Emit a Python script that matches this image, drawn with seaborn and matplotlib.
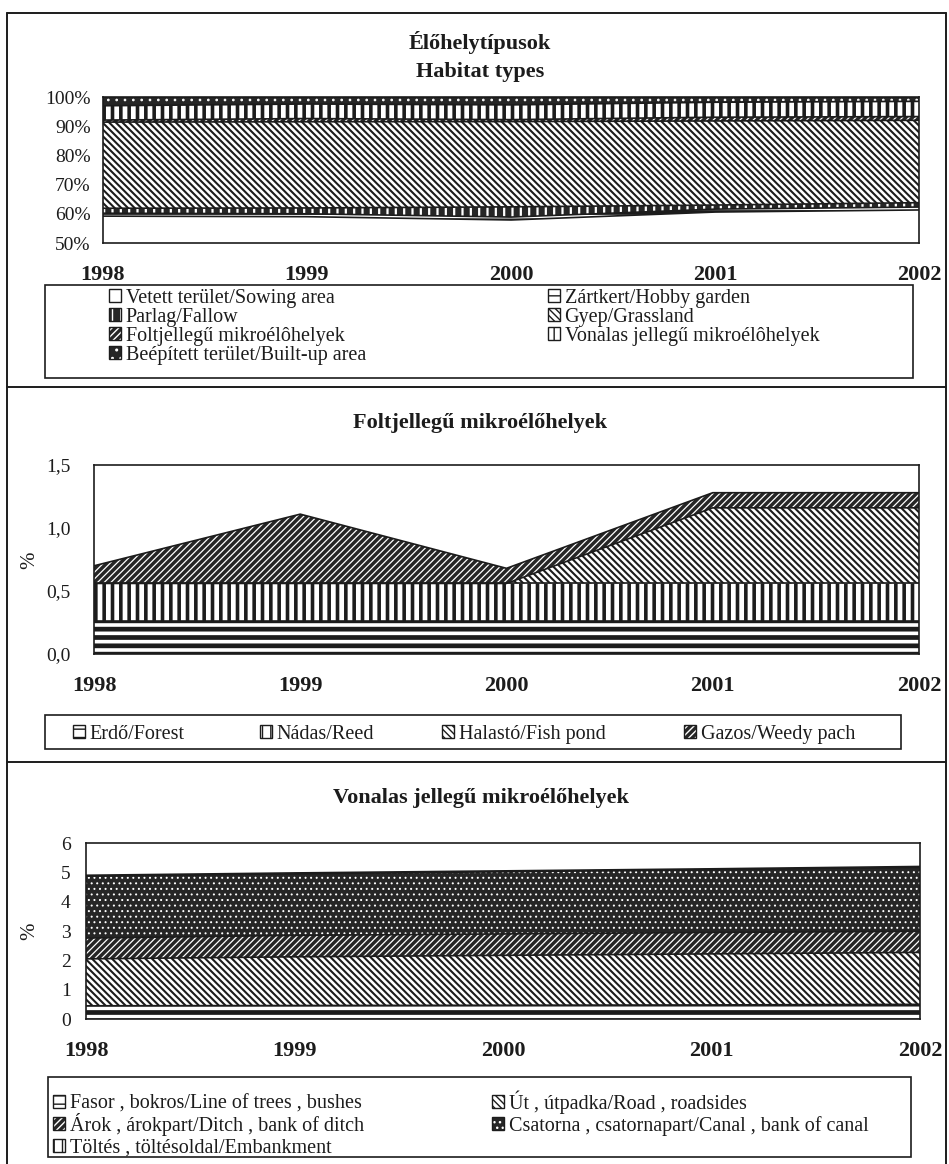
import numpy as np
import matplotlib
matplotlib.use("Agg")
import matplotlib.pyplot as plt
import seaborn as sns
from matplotlib.patches import Patch, Rectangle
from matplotlib.lines import Line2D
from matplotlib.legend_handler import HandlerTuple
from matplotlib.ticker import FuncFormatter, MultipleLocator

# ---------------------------------------------------------------- data
years = [1998, 1999, 2000, 2001, 2002]

# Élőhelytípusok / Habitat types (share of total area, %)
vetett = [59.2, 59.0, 57.9, 60.6, 61.3]
zartkert = [1.0, 1.0, 1.0, 1.0, 1.0]
parlag = [1.7, 2.0, 3.5, 1.4, 1.5]
gyep = [29.5, 29.5, 29.2, 28.8, 28.2]
foltjellegu = [0.70, 1.11, 0.68, 1.28, 1.28]
vonalas = [4.90, 4.98, 5.05, 5.12, 5.20]
beepitett = [3.0, 2.4, 2.7, 1.8, 1.5]
habitat_labels = ["Vetett terület/Sowing area", "Zártkert/Hobby garden",
                  "Parlag/Fallow", "Gyep/Grassland",
                  "Foltjellegű mikroélôhelyek", "Vonalas jellegű mikroélôhelyek",
                  "Beépített terület/Built-up area"]

# Foltjellegű mikroélőhelyek (%)
erdo = [0.26, 0.26, 0.26, 0.26, 0.26]
nadas = [0.30, 0.30, 0.30, 0.30, 0.30]
halasto = [0.00, 0.00, 0.00, 0.60, 0.60]
gazos = [0.14, 0.55, 0.12, 0.12, 0.12]
patch_labels = ["Erdő/Forest", "Nádas/Reed", "Halastó/Fish pond", "Gazos/Weedy pach"]

# Vonalas jellegű mikroélőhelyek (%)
fasor = [0.45, 0.46, 0.47, 0.48, 0.50]
ut = [1.60, 1.66, 1.70, 1.74, 1.77]
arok = [0.71, 0.73, 0.73, 0.73, 0.72]
csatorna = [2.11, 2.10, 2.12, 2.14, 2.18]
toltes = [0.03, 0.03, 0.03, 0.03, 0.03]
linear_labels = ["Fasor , bokros/Line of trees , bushes", "Út , útpadka/Road , roadsides",
                 "Árok , árokpart/Ditch , bank of ditch",
                 "Csatorna , csatornapart/Canal , bank of canal",
                 "Töltés , töltésoldal/Embankment"]

# ---------------------------------------------------------------- style
sns.set_theme(style="white")
plt.rcParams["font.family"] = ["Liberation Serif", "DejaVu Serif"]
INK = "#1c1c1c"
DARK = "#262626"
plt.rcParams["text.color"] = INK
plt.rcParams["axes.edgecolor"] = INK
plt.rcParams["xtick.color"] = INK
plt.rcParams["ytick.color"] = INK

LEG_FS = 14.5
TICK_FS = 14
YEAR_FS = 16
TITLE_FS = 16

# fill styles: (face colour, hatch, hatch colour, hatch line width)
S_WHITE = ("white", None, INK, 1.0)
S_HLINES = ("white", "--", INK, 3.4)
S_DARK_VBARS = (DARK, "||", "white", 1.6)
S_BACK = ("white", "\\" * 5, INK, 1.5)
S_DARK_FWD = (DARK, "/" * 5, "white", 0.9)
S_VBARS = ("white", "||", INK, 2.6)
S_DARK_DOTS = (DARK, "..", "white", 0.7)
S_DARK_CHECK = (DARK, "...", "white", 0.7)

W, H = 949, 1164
fig = plt.figure(figsize=(W / 100, H / 100), dpi=100)


def fx(px):
    return px / W


def fy(py):
    return 1 - py / H


def set_hlw(artist, lw):
    if hasattr(artist, "set_hatch_linewidth"):
        artist.set_hatch_linewidth(lw)


def band(ax, lo, hi, style):
    face, hatch, hcol, hlw = style
    with plt.rc_context({"hatch.linewidth": hlw}):
        pc = ax.fill_between(years, lo, hi, facecolor=face, edgecolor=hcol,
                             linewidth=0, hatch=hatch)
    set_hlw(pc, hlw)


def stacked(ax, series, styles):
    base = np.zeros(len(years))
    for vals, st in zip(series, styles):
        top = base + np.asarray(vals, dtype=float)
        band(ax, base, top, st)
        base = top
    base = np.zeros(len(years))
    for vals in series:
        base = base + np.asarray(vals, dtype=float)
        sns.lineplot(x=years, y=base, ax=ax, color=INK, lw=1.2, legend=False)


def style_axes(ax, left_pad):
    ax.set_xlim(1998, 2002)
    ax.set_xticks(years)
    ax.set_xticklabels([str(y) for y in years], fontweight="bold", fontsize=YEAR_FS)
    ax.tick_params(axis="x", direction="inout", length=8, width=1, pad=11.5)
    ax.tick_params(axis="y", direction="out", length=4, width=1, pad=left_pad,
                   labelsize=TICK_FS)
    for sp in ax.spines.values():
        sp.set_visible(True)
        sp.set_color(INK)
        sp.set_linewidth(1.2)
    ax.set_xlabel("")
    ax.set_ylabel("")
    ax.grid(False)


def swatch(style):
    face, hatch, hcol, hlw = style
    parts = [Patch(facecolor=face, edgecolor=face, linewidth=0)]
    if hatch:
        lw = min(hlw, 1.4)
        with plt.rc_context({"hatch.linewidth": lw}):
            hp = Patch(facecolor="none", edgecolor=hcol, linewidth=0, hatch=hatch)
        set_hlw(hp, lw)
        parts.append(hp)
    parts.append(Patch(facecolor="none", edgecolor=INK, linewidth=1.0))
    return tuple(parts)


def entry(style, label, x_px, y_px, fs=LEG_FS):
    # anchored at the bottom of the text line so accented capitals do not shift rows
    fig.legend([swatch(style)], [label], loc="lower left",
               bbox_to_anchor=(fx(x_px), fy(y_px + 9)), frameon=False,
               borderpad=0, borderaxespad=0, handlelength=0.62,
               handleheight=0.62, handletextpad=0.2, fontsize=fs,
               handler_map={tuple: HandlerTuple(ndivide=1, pad=0)})


def box(x0, y0, x1, y1):
    fig.add_artist(Rectangle((fx(x0), fy(y1)), (x1 - x0) / W, (y1 - y0) / H,
                             transform=fig.transFigure, fill=False,
                             edgecolor=INK, linewidth=1.2))


def hline(y, x0=7, x1=946):
    fig.add_artist(Line2D([fx(x0), fx(x1)], [fy(y), fy(y)],
                          transform=fig.transFigure, color=INK, lw=1.4))


# ---------------------------------------------------------------- chart 1
ax1 = fig.add_axes([fx(103), fy(243), (919 - 103) / W, (243 - 97) / H])
hab = np.array([vetett, zartkert, parlag, gyep, foltjellegu, vonalas, beepitett],
               dtype=float)
hab_pct = hab / hab.sum(axis=0) * 100
hab_styles = [S_WHITE, S_HLINES, S_DARK_VBARS, S_BACK, S_DARK_FWD, S_VBARS, S_DARK_DOTS]
stacked(ax1, list(hab_pct), hab_styles)
ax1.set_ylim(50, 100)
ax1.yaxis.set_major_locator(MultipleLocator(10))
ax1.yaxis.set_major_formatter(FuncFormatter(lambda v, p: f"{v:.0f}%"))
style_axes(ax1, 5)

fig.text(fx(480), fy(42), "Élőhelytípusok", ha="center", va="center",
         fontsize=TITLE_FS, fontweight="bold")
fig.text(fx(480), fy(72), "Habitat types", ha="center", va="center",
         fontsize=TITLE_FS, fontweight="bold")

box(45, 285, 913, 378)
col1 = [0, 2, 4, 6]
col2 = [1, 3, 5]
for row, i in enumerate(col1):
    entry(hab_styles[i], habitat_labels[i], 109, 299 + row * 19)
for row, i in enumerate(col2):
    entry(hab_styles[i], habitat_labels[i], 548, 299 + row * 19)

# ---------------------------------------------------------------- chart 2
ax2 = fig.add_axes([fx(94), fy(654), (919 - 94) / W, (654 - 465) / H])
patch_styles = [S_HLINES, S_VBARS, S_BACK, S_DARK_FWD]
stacked(ax2, [erdo, nadas, halasto, gazos], patch_styles)
ax2.set_ylim(0, 1.5)
ax2.yaxis.set_major_locator(MultipleLocator(0.5))
ax2.yaxis.set_major_formatter(FuncFormatter(lambda v, p: f"{v:.1f}".replace(".", ",")))
style_axes(ax2, 13)
fig.text(fx(30), fy(560), "%", rotation=90, ha="center", va="center", fontsize=15)
fig.text(fx(480), fy(423), "Foltjellegű mikroélőhelyek", ha="center", va="center",
         fontsize=TITLE_FS, fontweight="bold")

box(45, 715, 901, 749)
for x_px, st, lab in zip([73, 260, 442, 684], patch_styles, patch_labels):
    entry(st, lab, x_px, 735)

# ---------------------------------------------------------------- chart 3
ax3 = fig.add_axes([fx(86), fy(1019), (920 - 86) / W, (1019 - 843) / H])
linear_styles = [S_HLINES, S_BACK, S_DARK_FWD, S_DARK_CHECK, S_VBARS]
stacked(ax3, [fasor, ut, arok, csatorna, toltes], linear_styles)
ax3.set_ylim(0, 6)
ax3.yaxis.set_major_locator(MultipleLocator(1))
ax3.yaxis.set_major_formatter(FuncFormatter(lambda v, p: f"{v:.0f}"))
style_axes(ax3, 7)
fig.text(fx(30), fy(931), "%", rotation=90, ha="center", va="center", fontsize=15)
fig.text(fx(481), fy(798), "Vonalas jellegű mikroélőhelyek", ha="center",
         va="center", fontsize=TITLE_FS, fontweight="bold")

box(48, 1077, 911, 1157)
for row, i in enumerate([0, 2, 4]):
    entry(linear_styles[i], linear_labels[i], 53, 1105 + row * 22)
for row, i in enumerate([1, 3]):
    entry(linear_styles[i], linear_labels[i], 492, 1105 + row * 22)

# ---------------------------------------------------------------- page frame
hline(13)
hline(387)
hline(762)
fig.add_artist(Line2D([fx(7), fx(7)], [fy(13), 0], transform=fig.transFigure,
                      color=INK, lw=1.4))
fig.add_artist(Line2D([fx(946), fx(946)], [fy(13), 0], transform=fig.transFigure,
                      color=INK, lw=1.4))

fig.savefig("out.png", dpi=100, facecolor="white")
